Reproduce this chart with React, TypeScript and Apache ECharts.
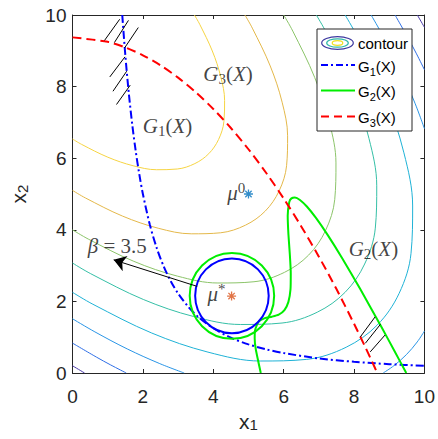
import React, { useEffect, useRef } from "react";
import * as echarts from "echarts";

// ---- Data ----
// Contour lines of the objective (levels -0.5 ... -4), as [x1, x2] points
const contourLevels = [-0.5, -1, -1.5, -2, -2.5, -3, -3.5, -4];
const contourM05 = [[3.464,10],[3.614,9.741],[3.973,8.994],[4.212,8.278],[4.322,7.614],[4.302,7.023],[4.150,6.522],[3.873,6.127],[3.478,5.850],[2.977,5.698],[2.386,5.678],[1.722,5.789],[1.006,6.027],[0.259,6.386],[0,6.536]];
const contourM10 = [[4.899,10],[5.110,9.633],[5.618,8.577],[5.956,7.565],[6.112,6.626],[6.083,5.790],[5.869,5.082],[5.477,4.523],[4.918,4.131],[4.210,3.917],[3.374,3.888],[2.435,4.044],[1.423,4.382],[0.367,4.890],[0,5.101]];
const contourM15 = [[6.0,10],[6.259,9.551],[6.881,8.257],[7.294,7.018],[7.486,5.868],[7.451,4.843],[7.188,3.976],[6.708,3.292],[6.024,2.812],[5.157,2.549],[4.132,2.514],[2.982,2.706],[1.743,3.119],[0.449,3.741],[0,4.0]];
const contourM20 = [[6.928,10],[7.227,9.481],[7.946,7.988],[8.423,6.556],[8.645,5.228],[8.604,4.046],[8.301,3.044],[7.746,2.254],[6.956,1.699],[5.954,1.396],[4.772,1.355],[3.444,1.577],[2.012,2.054],[0.519,2.773],[0,3.072]];
const contourM25 = [[7.746,10],[8.080,9.420],[8.883,7.750],[9.417,6.150],[9.665,4.665],[9.619,3.343],[9.280,2.223],[8.660,1.340],[7.777,0.720],[6.657,0.381],[5.335,0.335],[3.850,0.583],[2.250,1.117],[0.580,1.920],[0,2.254]];
const contourM30a = [[8.485,10],[8.851,9.364],[9.328,8.444],[9.732,7.535],[10,6.826]];
const contourM30b = [[10,1.172],[9.795,0.867],[9.487,0.513],[9.133,0.205],[8.828,0]];
const contourM30c = [[3.174,0],[2.465,0.268],[1.556,0.672],[0.636,1.149],[0,1.515]];
const contourM35a = [[9.165,10],[9.560,9.313],[9.775,8.915],[10,8.472]];
const contourM35b = [[1.528,0],[1.085,0.225],[0.687,0.440],[0,0.835]];
const contourM40a = [[9.798,10],[10,9.657]];
const contourM40b = [[0,0.202],[0.343,0]];

// Limit-state curves G1, G2, G3 = 0
const g1Curve = [[1.414,10],[1.5,8.889],[1.6,7.813],[1.7,6.920],[1.8,6.173],[1.9,5.540],[2.0,5.0],[2.2,4.132],[2.4,3.472],[2.6,2.959],[2.8,2.551],[3.0,2.222],[3.3,1.837],[3.6,1.543],[4.0,1.25],[4.5,0.988],[5.0,0.8],[5.5,0.661],[6.0,0.556],[7.0,0.408],[8.0,0.313],[9.0,0.247],[10.0,0.2]];
const g2Curve = [[5.35,0],[5.208,0.663],[5.177,0.966],[5.185,1.184],[5.289,1.436],[5.464,1.533],[5.666,1.573],[5.860,1.629],[6.022,1.756],[6.135,1.987],[6.194,2.334],[6.202,2.789],[6.175,3.321],[6.135,3.880],[6.115,4.395],[6.159,4.774],[6.221,4.878],[6.320,4.904],[6.463,4.834],[6.659,4.650],[6.918,4.331],[7.249,3.857],[7.663,3.205],[8.172,2.351],[8.787,1.270],[9.137,0.636],[9.484,0]];
const g3Curve = [[0,9.375],[1,9.25],[1.5,9.094],[2,8.875],[2.5,8.594],[3,8.25],[3.5,7.844],[4,7.375],[4.5,6.844],[5,6.25],[5.5,5.594],[6,4.875],[6.5,4.094],[7,3.25],[7.5,2.344],[8,1.375],[8.3,0.764],[8.5,0.344],[8.66,0]];

// Designs and reliability circles [x1, x2, radius]
const muInitial = [[5.0, 5.0]];
const muOptimal = [[4.52, 2.15]];
const betaCircle = [[4.53, 2.155, 1.045]];
const targetCircle = [[4.53, 2.155, 1.2]];
const betaArrow = [[3.54, 2.42], [1.17, 3.16]];

// Hatch marks (infeasible side)
const hatchLines = [
  [[0.91, 9.29], [1.34, 9.88]],
  [[1.19, 9.23], [1.59, 9.85]],
  [[1.48, 9.08], [1.87, 9.65]],
  [[1.06, 8.27], [1.49, 8.83]],
  [[1.15, 7.87], [1.54, 8.43]],
  [[1.25, 7.50], [1.64, 8.04]],
  [[8.18, 1.01], [8.60, 1.57]],
  [[8.32, 0.83], [8.75, 1.36]],
  [[8.46, 0.59], [8.88, 1.06]],
];

// Text annotation anchors
const annotations = [
  { key: "g1", text: "{mi|G}{sub|1}{mn|(}{mi|X}{mn|)}", at: [2.70, 6.89] },
  { key: "g3", text: "{mi|G}{sub|3}{mn|(}{mi|X}{mn|)}", at: [4.42, 8.34] },
  { key: "g2", text: "{mi|G}{sub|2}{mn|(}{mi|X}{mn|)}", at: [8.55, 3.45] },
  { key: "mu0", text: "{mi|μ}{sup|0}", at: [4.65, 5.04] },
  { key: "mustar", text: "{mi|μ}{sup|*}", at: [4.09, 2.21] },
  { key: "beta", text: "{mi|β}{mn| = 3.5}", at: [1.27, 3.55] },
];

const axisTicksX = [0, 2, 4, 6, 8, 10];

// ---- Styles ----
const contourColors = ["#f6d443", "#e4b84a", "#8cc46a", "#35bfa6", "#1fb2d6", "#2a95e6", "#2f6fe6", "#4a3aaa"];
const AXIS = "#262626";
const SANS = "'Liberation Sans', Arial, Helvetica, sans-serif";
const SERIF = "'Liberation Serif', 'Times New Roman', serif";

export default function App() {
  const ref = useRef<HTMLDivElement>(null);
  useEffect(() => {
    if (!ref.current) return;
    const chart = echarts.init(ref.current, undefined, { renderer: "svg" });

    const contourSets: number[][][][] = [
      [contourM05], [contourM10], [contourM15], [contourM20], [contourM25],
      [contourM30a, contourM30b, contourM30c], [contourM35a, contourM35b], [contourM40a, contourM40b],
    ];
    const series: any[] = [];
    contourSets.forEach((pieces, li) => {
      pieces.forEach((pts) => {
        series.push({
          type: "line", name: "contour " + contourLevels[li], data: pts, smooth: 0.35,
          symbol: "none", showSymbol: false, silent: true,
          lineStyle: { color: contourColors[li], width: 1 }, z: 2,
        });
      });
    });
    series.push({ type: "line", name: "G1(X)", data: g1Curve, smooth: 0.3, symbol: "none", silent: true,
      lineStyle: { color: "#0000ff", width: 2, type: [8, 3, 2, 3] }, z: 4 });
    series.push({ type: "line", name: "G2(X)", data: g2Curve, smooth: 0.2, symbol: "none", silent: true,
      lineStyle: { color: "#00ee00", width: 2 }, z: 4 });
    series.push({ type: "line", name: "G3(X)", data: g3Curve, smooth: 0.3, symbol: "none", silent: true,
      lineStyle: { color: "#ff0000", width: 2, type: [9, 5] }, z: 4 });

    const circleSeries = (data: number[][], color: string) => ({
      type: "custom", coordinateSystem: "cartesian2d", data, silent: true, z: 5,
      renderItem: (_p: any, api: any) => {
        const c = api.coord([api.value(0), api.value(1)]);
        const s = api.size([api.value(2), api.value(2)]);
        return { type: "ellipse", shape: { cx: c[0], cy: c[1], rx: s[0], ry: s[1] },
          style: { fill: "none", stroke: color, lineWidth: 2 } };
      },
    });
    series.push(circleSeries(targetCircle, "#00ee00"));
    series.push(circleSeries(betaCircle, "#0000ff"));

    series.push({
      type: "lines", coordinateSystem: "cartesian2d", silent: true, z: 6,
      data: hatchLines.map((c) => ({ coords: c })),
      lineStyle: { color: "#000", width: 1, opacity: 1 },
    });
    series.push({
      type: "lines", coordinateSystem: "cartesian2d", silent: true, z: 6,
      data: [{ coords: betaArrow }],
      symbol: ["none", "arrow"], symbolSize: 12,
      lineStyle: { color: "#000", width: 1, opacity: 1 },
    });

    const star = "path://M5 0L5 10M0 5L10 5M1.46 1.46L8.54 8.54M1.46 8.54L8.54 1.46";
    series.push({ type: "scatter", data: muInitial, symbol: star, symbolSize: 9, silent: true, z: 7,
      itemStyle: { color: "rgba(0,0,0,0)", borderColor: "#0072BD", borderWidth: 1.3 } });
    series.push({ type: "scatter", data: muOptimal, symbol: star, symbolSize: 9, silent: true, z: 7,
      itemStyle: { color: "rgba(0,0,0,0)", borderColor: "#D95319", borderWidth: 1.3 } });

    const mathRich = {
      mi: { fontFamily: SERIF, fontStyle: "italic", fontSize: 21, lineHeight: 24, color: "#111" },
      mn: { fontFamily: SERIF, fontSize: 21, lineHeight: 24, color: "#111" },
      sub: { fontFamily: SERIF, fontSize: 15, lineHeight: 14, verticalAlign: "bottom", color: "#111" },
      sup: { fontFamily: SERIF, fontSize: 15, lineHeight: 14, verticalAlign: "top", color: "#111" },
    };
    series.push({
      type: "scatter", symbolSize: 1, silent: true, z: 8,
      itemStyle: { color: "rgba(0,0,0,0)" },
      data: annotations.map((a) => ({ name: a.key, value: a.at, label: { formatter: a.text } })),
      label: { show: true, position: "inside", color: "#111", rich: mathRich },
    });

    const legendX = 317, legendY = 29;
    const rows = [43, 65, 90.5, 116.5];
    const legendRich = {
      a: { fontFamily: SANS, fontSize: 15, lineHeight: 22, color: "#000" },
      b: { fontFamily: SANS, fontSize: 11, lineHeight: 9, verticalAlign: "bottom", color: "#000" },
    };
    const legendTexts = ["{a|G}{b|1}{a|(X)}", "{a|G}{b|2}{a|(X)}", "{a|G}{b|3}{a|(X)}"];
    const legendStyles = [
      { stroke: "#0000ff", lineDash: [7, 3, 2, 3] },
      { stroke: "#00ee00", lineDash: null },
      { stroke: "#ff0000", lineDash: [8, 5] },
    ];
    const graphic: any[] = [
      { type: "rect", z: 100, shape: { x: legendX, y: legendY, width: 95, height: 102 },
        style: { fill: "#fff", stroke: AXIS, lineWidth: 1 } },
      { type: "ellipse", z: 101, shape: { cx: 337.5, cy: rows[0], rx: 15.8, ry: 6.3 }, style: { fill: "none", stroke: "#3e3aa0", lineWidth: 1.2 } },
      { type: "ellipse", z: 101, shape: { cx: 337.5, cy: rows[0], rx: 10.8, ry: 4.2 }, style: { fill: "none", stroke: "#2fb8a8", lineWidth: 1.2 } },
      { type: "ellipse", z: 101, shape: { cx: 337.5, cy: rows[0], rx: 5.3, ry: 2.3 }, style: { fill: "none", stroke: "#f0e020", lineWidth: 1.2 } },
      { type: "text", z: 101, x: 358, y: rows[0], style: { text: "contour", fontFamily: SANS, fontSize: 15, fill: "#000", verticalAlign: "middle" } },
    ];
    legendStyles.forEach((st, i) => {
      graphic.push({ type: "line", z: 101, shape: { x1: 321, y1: rows[i + 1], x2: 355, y2: rows[i + 1] },
        style: { stroke: st.stroke, lineWidth: 2, lineDash: st.lineDash } });
      graphic.push({ type: "text", z: 101, x: 358, y: rows[i + 1] + 1,
        style: { text: legendTexts[i], rich: legendRich, verticalAlign: "middle" } });
    });

    const axisBase = {
      type: "value", min: 0, max: 10, interval: 2,
      splitLine: { show: false },
      axisLine: { show: true, onZero: false, lineStyle: { color: AXIS, width: 1 } },
      axisTick: { show: true, inside: true, length: 4, lineStyle: { color: AXIS, width: 1 } },
    };
    const tickLabel = { fontFamily: SANS, fontSize: 19, color: AXIS };

    chart.setOption({
      animation: false,
      grid: { left: 68, top: 15, width: 359, height: 358, containLabel: false },
      xAxis: [
        { ...axisBase, position: "bottom",
          axisLabel: { ...tickLabel, margin: 14, formatter: (v: number) => (axisTicksX.includes(v) ? String(v) : "") },
          name: "{a|x}{b|1}", nameLocation: "middle", nameGap: 37,
          nameTextStyle: { rich: {
            a: { fontFamily: SANS, fontSize: 21, lineHeight: 22, color: AXIS },
            b: { fontFamily: SANS, fontSize: 15, lineHeight: 12, verticalAlign: "bottom", color: AXIS },
          } } },
        { ...axisBase, position: "top", axisLabel: { show: false } },
      ],
      yAxis: [
        { ...axisBase, position: "left", axisLabel: { ...tickLabel, margin: 6 },
          name: "{a|x}{b|2}", nameLocation: "middle", nameGap: 43, nameRotate: 90,
          nameTextStyle: { rich: {
            a: { fontFamily: SANS, fontSize: 21, lineHeight: 22, color: AXIS },
            b: { fontFamily: SANS, fontSize: 15, lineHeight: 12, verticalAlign: "bottom", color: AXIS },
          } } },
        { ...axisBase, position: "right", axisLabel: { show: false } },
      ],
      series,
      graphic,
    });
    return () => chart.dispose();
  }, []);
  return <div ref={ref} style={{ position: "fixed", left: 0, top: 0, width: 438, height: 439, background: "#fff" }} />;
}
